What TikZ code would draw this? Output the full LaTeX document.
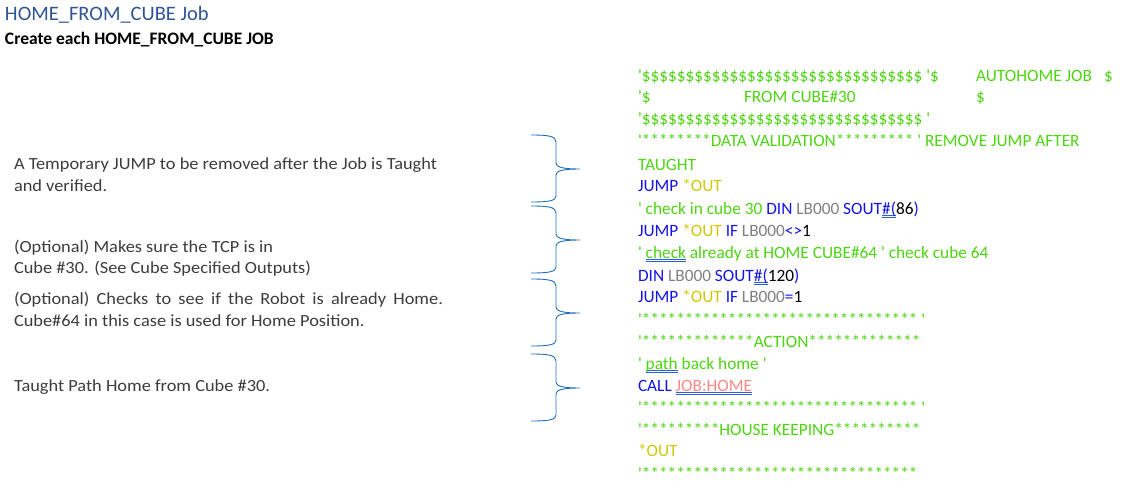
\documentclass[tikz,border=0pt]{standalone}
\usepackage{fontspec}
\setmainfont{Carlito}
\newfontfamily\codefont{Carlito}
\newfontfamily\notefont{Carlito}[FakeStretch=1.08]
\definecolor{titleblue}{RGB}{47,84,150}
\definecolor{notegray}{RGB}{60,60,60}
\definecolor{codegreen}{RGB}{77,212,18}
\definecolor{codeblue}{RGB}{20,20,230}
\definecolor{codeyellow}{RGB}{205,200,10}
\definecolor{codegray}{RGB}{128,128,128}
\definecolor{codepink}{RGB}{255,135,135}
\definecolor{ulblue}{RGB}{40,95,220}
\definecolor{bracecol}{RGB}{30,110,190}
\newsavebox\ulbox
\newcommand{\kw}[1]{\textcolor{codeblue}{#1}}
\newcommand{\lbl}[1]{\textcolor{codeyellow}{#1}}
\newcommand{\regname}[1]{\textcolor{codegray}{#1}}
\newcommand{\dblul}[1]{\sbox\ulbox{#1}\rlap{\color{ulblue}\rule[-1.7pt]{\wd\ulbox}{0.7pt}}\rlap{\color{ulblue}\rule[-3.5pt]{\wd\ulbox}{0.7pt}}\usebox\ulbox}
\newcommand{\dollars}[1]{\foreach\i in {1,...,#1}{\$}}
\newcommand{\stars}[1]{\foreach\i in {1,...,#1}{*}}
\begin{document}
\begin{tikzpicture}[x=1pt,y=-1pt,
		txt/.style={anchor=base west,inner sep=0pt,outer sep=0pt},
		note/.style={txt,text=notegray,align=left,font=\notefont\fontsize{17}{21.5}\selectfont},
		code/.style={txt,text=codegreen,font=\codefont\fontsize{17.3}{20}\selectfont},
		notebrace/.style={draw=bracecol,line width=0.9pt}]
	\useasboundingbox (0,0) rectangle (1128,490);
	% heading
	\node[txt,text=titleblue,font=\fontsize{20.5}{24}\selectfont] (title) at (5,20.7) {HOME\_FROM\_CUBE Job};
	\node[txt,font=\bfseries\fontsize{17.5}{20}\selectfont] (subtitle) at (5,44) {Create each HOME\_FROM\_CUBE JOB};
	% notes on the left (base = last line)
	\node[note] (note1) at (14,191) {A Temporary JUMP to be removed after the Job is Taught\\and verified.};
	\node[note] (note2) at (14,273.5) {(Optional) Makes sure the TCP is in\\Cube \#30. (See Cube Specified Outputs)};
	\node[note] (note3) at (14,326) {\makebox[429pt][s]{(Optional) Checks to see if the Robot is already Home.}\\Cube\#64 in this case is used for Home Position.};
	\node[note] (note4) at (14,391.5) {Taught Path Home from Cube \#30.};
	% braces
	\foreach \t in {135,206,279,354}
		\draw[notebrace] (531,\t) .. controls (548,\t) and (556,\t+1) .. (556,\t+7) -- (556,\t+28)
			.. controls (556,\t+32) and (562,\t+34) .. (580,\t+34)
			.. controls (562,\t+34) and (556,\t+36) .. (556,\t+40) -- (556,\t+61)
			.. controls (556,\t+66) and (548,\t+67) .. (531,\t+67);
	% job listing
	\node[code] (c1) at (638,81) {\makebox[338pt][l]{'\dollars{32} '\$}\makebox[128pt][l]{AUTOHOME JOB}\$};
	\node[code] (c2) at (638,102.5) {\makebox[106pt][l]{'\$}\makebox[232pt][l]{FROM CUBE\#30}\$};
	\node[code] (c3) at (638,124.5) {'\dollars{32} '};
	\node[code] (c4) at (638,146) {'\stars{8}DATA VALIDATION\stars{9} ' REMOVE JUMP AFTER};
	\node[code] (c5) at (638,170) {TAUGHT};
	\node[code] (c6) at (638,191.7) {\kw{JUMP} \lbl{*OUT}};
	\node[code] (c7) at (638,214) {' check in cube 30 \kw{DIN} \regname{LB000} \kw{SOUT\dblul{\#(}}{\color{black}86}\kw{)}};
	\node[code] (c8) at (638,236.7) {\kw{JUMP} \lbl{*OUT} \kw{IF} \regname{LB000}\kw{<>}{\color{black}1}};
	\node[code] (c9) at (638,258.3) {' \dblul{check} already at HOME CUBE\#64 ' check cube 64};
	\node[code] (c10) at (638,281) {\kw{DIN} \regname{LB000} \kw{SOUT\dblul{\#(}}{\color{black}120}\kw{)}};
	\node[code] (c11) at (638,302.3) {\kw{JUMP} \lbl{*OUT} \kw{IF} \regname{LB000}\kw{=}{\color{black}1}};
	\node[code] (c12) at (638,325) {'\stars{32} '};
	\node[code] (c13) at (638,347.3) {'\stars{13}ACTION\stars{13}};
	\node[code] (c14) at (638,369.3) {' \dblul{path} back home '};
	\node[code] (c15) at (638,391) {\kw{CALL} \dblul{\textcolor{codepink}{JOB:HOME}}};
	\node[code] (c16) at (638,413.5) {'\stars{32} '};
	\node[code] (c17) at (638,435.7) {'\stars{9}HOUSE KEEPING\stars{10}};
	\node[code] (c18) at (638,456.7) {\lbl{*OUT}};
	\node[code] (c19) at (638,479) {'\stars{32}};
\end{tikzpicture}
\end{document}
